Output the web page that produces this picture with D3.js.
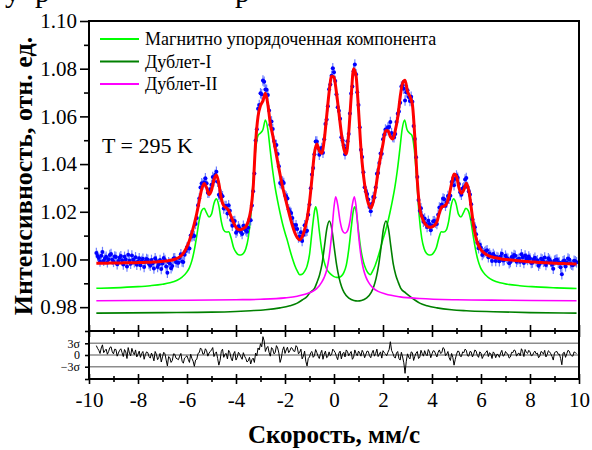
<!DOCTYPE html>
<html>
<head>
<meta charset="utf-8">
<script src="https://cdnjs.cloudflare.com/ajax/libs/d3/7.8.5/d3.min.js"></script>
<style>
body{margin:0;background:#fff;}
svg{display:block;}
</style>
</head>
<body>
<div id="chart"></div>
<script>
// velocity grid of the measured channels, mm/s (two interleaved sets)
var vStart=-9.7, vStartHalf=-9.65, vStep=0.1;

// measured intensity, channels at vStart + i*vStep
var counts=[
1.0027,1.0006,1.0016,0.9995,1.0011,1.0001,1.0023,0.9990,1.0010,0.9994,
1.0014,0.9979,1.0000,1.0020,0.9982,0.9999,1.0009,0.9991,0.9976,1.0003,
0.9990,0.9999,0.9974,0.9984,1.0005,0.9968,0.9998,0.9983,0.9998,0.9944,
0.9983,0.9973,1.0005,0.9987,1.0006,0.9991,1.0020,1.0050,1.0046,1.0096,
1.0098,1.0174,1.0256,1.0320,1.0324,1.0320,1.0281,1.0313,1.0328,1.0368,
1.0271,1.0271,1.0214,1.0224,1.0227,1.0166,1.0160,1.0112,1.0139,1.0116,
1.0141,1.0122,1.0133,1.0164,1.0286,1.0499,1.0632,1.0697,1.0750,1.0713,
1.0690,1.0565,1.0547,1.0476,1.0442,1.0321,1.0327,1.0269,1.0256,1.0200,
1.0174,1.0128,1.0128,1.0096,1.0077,1.0143,1.0120,1.0231,1.0356,1.0441,
1.0495,1.0439,1.0467,1.0504,1.0587,1.0714,1.0770,1.0785,1.0693,1.0624,
1.0512,1.0478,1.0465,1.0526,1.0696,1.0789,1.0777,1.0648,1.0460,1.0366,
1.0286,1.0251,1.0202,1.0262,1.0302,1.0363,1.0444,1.0504,1.0545,1.0553,
1.0576,1.0514,1.0526,1.0611,1.0657,1.0731,1.0667,1.0710,1.0665,1.0661,
1.0505,1.0346,1.0204,1.0182,1.0172,1.0136,1.0149,1.0142,1.0161,1.0149,
1.0218,1.0231,1.0253,1.0239,1.0255,1.0325,1.0311,1.0352,1.0316,1.0271,
1.0303,1.0342,1.0285,1.0232,1.0144,1.0106,1.0047,1.0049,1.0026,1.0035,
1.0009,1.0017,1.0023,0.9994,1.0007,1.0012,0.9996,1.0016,1.0003,0.9989,
1.0008,1.0016,1.0000,0.9990,1.0009,1.0017,0.9998,1.0004,0.9987,1.0007,
0.9997,0.9982,1.0000,1.0008,0.9988,0.9999,0.9978,0.9995,1.0000,0.9987,
0.9938,0.9996,0.9987,1.0000,0.9978,0.9995,0.9988
];
// measured intensity, channels at vStartHalf + i*vStep
var countsHalf=[
1.0015,0.9991,1.0031,1.0004,0.9988,1.0019,0.9999,1.0012,0.9980,1.0007,
0.9997,1.0011,0.9970,0.9995,1.0017,0.9988,0.9978,1.0005,0.9994,0.9968,
1.0002,0.9981,0.9998,0.9962,0.9994,0.9980,0.9960,1.0006,0.9971,0.9988,
0.9963,1.0004,0.9989,0.9986,1.0022,0.9989,1.0035,1.0047,1.0100,1.0102,
1.0149,1.0227,1.0302,1.0314,1.0341,1.0280,1.0294,1.0346,1.0355,1.0326,
1.0263,1.0265,1.0224,1.0193,1.0204,1.0141,1.0161,1.0119,1.0129,1.0107,
1.0129,1.0116,1.0169,1.0226,1.0361,1.0546,1.0648,1.0693,1.0745,1.0712,
1.0625,1.0579,1.0497,1.0480,1.0391,1.0316,1.0321,1.0264,1.0211,1.0195,
1.0145,1.0144,1.0092,1.0114,1.0103,1.0117,1.0187,1.0299,1.0384,1.0495,
1.0467,1.0455,1.0448,1.0568,1.0643,1.0734,1.0802,1.0748,1.0638,1.0590,
1.0500,1.0441,1.0496,1.0612,1.0725,1.0818,1.0701,1.0554,1.0430,1.0303,
1.0275,1.0220,1.0234,1.0261,1.0359,1.0404,1.0443,1.0523,1.0541,1.0555,
1.0530,1.0513,1.0576,1.0621,1.0725,1.0716,1.0701,1.0681,1.0682,1.0560,
1.0429,1.0249,1.0215,1.0158,1.0150,1.0162,1.0122,1.0160,1.0154,1.0188,
1.0215,1.0256,1.0225,1.0266,1.0267,1.0329,1.0338,1.0343,1.0282,1.0298,
1.0335,1.0304,1.0272,1.0169,1.0135,1.0070,1.0062,1.0019,1.0031,1.0039,
1.0025,0.9994,1.0015,1.0010,0.9993,1.0024,0.9998,1.0006,0.9984,1.0010,
1.0019,0.9990,1.0003,1.0022,0.9985,1.0004,1.0012,0.9985,1.0000,0.9993,
0.9974,1.0003,0.9990,0.9977,1.0005,0.9990,0.9961,0.9998,0.9987,0.9967,
0.9992,0.9971,1.0004,0.9984,0.9976,0.9992
];
var errHalf=0.0022;

// total fit on the channels of counts
var fitTotal=[
0.9984,0.9984,0.9984,0.9984,0.9984,0.9985,0.9985,0.9985,0.9985,0.9985,
0.9985,0.9986,0.9986,0.9986,0.9986,0.9986,0.9986,0.9987,0.9987,0.9987,
0.9988,0.9988,0.9988,0.9989,0.9989,0.9990,0.9991,0.9992,0.9993,0.9994,
0.9996,0.9998,1.0001,1.0005,1.0011,1.0020,1.0034,1.0054,1.0080,1.0112,
1.0150,1.0194,1.0245,1.0295,1.0319,1.0300,1.0272,1.0290,1.0335,1.0354,
1.0318,1.0255,1.0225,1.0217,1.0205,1.0180,1.0155,1.0135,1.0126,1.0125,
1.0130,1.0138,1.0160,1.0205,1.0300,1.0490,1.0600,1.0645,1.0665,1.0697,
1.0650,1.0570,1.0520,1.0465,1.0410,1.0355,1.0305,1.0262,1.0220,1.0180,
1.0143,1.0112,1.0092,1.0083,1.0095,1.0125,1.0170,1.0240,1.0340,1.0445,
1.0484,1.0455,1.0445,1.0500,1.0600,1.0700,1.0768,1.0765,1.0700,1.0615,
1.0530,1.0465,1.0442,1.0530,1.0680,1.0800,1.0770,1.0630,1.0465,1.0355,
1.0282,1.0235,1.0215,1.0240,1.0295,1.0370,1.0430,1.0484,1.0540,1.0540,
1.0515,1.0505,1.0540,1.0595,1.0680,1.0740,1.0752,1.0705,1.0683,1.0650,
1.0510,1.0330,1.0215,1.0175,1.0152,1.0140,1.0135,1.0137,1.0143,1.0158,
1.0195,1.0220,1.0224,1.0235,1.0268,1.0318,1.0358,1.0348,1.0300,1.0278,
1.0292,1.0320,1.0290,1.0218,1.0140,1.0088,1.0058,1.0040,1.0030,1.0022,
1.0016,1.0012,1.0009,1.0007,1.0005,1.0003,1.0001,1.0000,0.9999,0.9998,
0.9997,0.9996,0.9995,0.9994,0.9993,0.9992,0.9991,0.9990,0.9989,0.9989,
0.9988,0.9987,0.9987,0.9986,0.9986,0.9985,0.9985,0.9984,0.9984,0.9983,
0.9983,0.9983,0.9982,0.9982,0.9982,0.9981,0.9981
];

// residuals in units of sigma, for counts and countsHalf
var resid=[
2.4,1.2,1.8,0.6,1.5,0.9,2.1,0.3,1.4,0.5,
1.6,-0.4,0.8,1.9,-0.2,0.7,1.3,0.2,-0.6,0.9,
0.1,0.6,-0.8,-0.3,0.9,-1.2,0.4,-0.5,0.3,-2.8,
-0.7,-1.4,0.2,-1.0,-0.3,-1.6,-0.8,-0.2,-1.9,-0.9,
-2.9,-1.1,0.6,1.4,0.3,1.1,0.5,1.3,-0.4,0.8,
-2.6,0.9,-0.6,0.4,1.2,-0.8,0.3,-1.3,0.7,-0.5,
0.6,-0.9,-1.5,-2.3,-0.8,0.5,1.8,2.9,4.7,0.9,
2.2,-0.3,1.5,0.6,1.8,-1.9,1.2,0.4,2.0,1.1,
1.7,0.9,2.0,0.7,-1.0,1.0,-2.8,-0.5,0.9,-0.2,
0.6,-0.9,1.2,0.2,-0.7,0.8,0.1,1.1,-0.4,0.5,
-1.0,0.7,1.3,-0.2,0.9,-0.6,0.4,1.0,-0.3,0.6,
0.2,0.9,-0.7,1.2,0.4,-0.4,0.8,1.1,0.3,0.7,
3.4,0.5,-0.8,0.9,-1.3,-0.5,-4.7,0.3,-1.0,0.6,
-0.3,0.9,-0.6,0.4,1.1,-0.2,0.8,0.3,1.0,-0.5,
1.3,0.6,1.6,0.2,-0.7,0.4,-2.6,0.2,0.9,-0.4,
0.6,1.2,-0.3,0.8,0.2,1.0,-0.6,0.5,-0.2,0.7,
-0.4,0.3,0.8,-0.7,0.1,0.5,-0.3,0.9,0.2,-0.5,
0.6,1.1,0.3,-0.2,0.9,1.4,0.4,0.8,-0.1,1.0,
0.5,-0.3,0.7,1.2,0.1,0.8,-0.4,0.6,0.9,0.2,
-2.5,0.7,0.3,1.0,-0.2,0.8,0.4
];
var residHalf=[
1.7,0.4,2.6,1.1,0.2,1.9,0.8,1.5,-0.3,1.2,
0.6,1.4,-0.9,0.5,1.7,0.1,-0.5,1.0,0.4,-1.1,
0.8,-0.4,0.5,-1.5,0.2,-0.6,-1.8,0.7,-1.3,-0.4,
-1.9,0.3,-0.8,-1.2,0.4,-2.1,-0.5,-1.1,0.2,-1.6,
-1.3,0.4,1.8,0.2,1.6,-0.3,0.9,1.9,0.4,-0.9,
-1.4,1.5,0.2,-1.0,0.6,-1.5,0.9,-0.6,0.2,-1.1,
-0.3,-1.8,-0.6,-1.2,-1.9,-0.2,1.3,2.1,3.6,1.8,
0.7,1.9,0.3,2.4,0.5,-0.8,2.1,1.3,0.6,1.9,
1.0,2.4,0.3,1.5,-0.3,-1.6,-0.9,0.6,-0.6,1.4,
-0.3,0.4,-1.1,1.0,-0.4,-0.2,1.5,0.6,-1.2,1.0,
0.3,-0.5,0.9,0.4,-1.1,1.3,-0.2,0.5,1.2,-0.7,
1.0,-0.2,0.5,-0.3,1.5,0.2,-0.8,0.6,-0.2,1.4,
1.2,-0.4,0.5,-0.9,0.7,-2.0,-1.6,-0.6,0.8,-1.4,
0.5,-0.9,1.2,-0.3,0.2,1.4,-0.7,1.1,0.2,0.7,
0.4,1.9,-0.2,0.9,-1.4,-0.6,-1.1,1.0,-0.3,0.8,
1.5,-0.2,0.9,-0.5,1.3,-0.1,0.8,-0.9,0.3,1.1,
0.6,-0.9,0.4,0.2,-0.6,1.2,-0.1,0.4,-0.8,0.7,
1.3,-0.3,0.5,1.6,-0.4,0.7,1.2,-0.2,0.6,0.3,
-0.7,0.9,0.2,-0.5,1.1,0.3,-1.3,0.8,0.2,-0.9,
0.5,-0.6,1.2,0.1,-0.3,0.6
];

// sub-spectra [velocity, intensity]
var magnetic=[
[-9.7,0.9879],[-9.0,0.9881],[-8.0,0.9886],[-7.5,0.9890],[-7.0,0.9896],[-6.7,0.9902],[-6.4,0.9913],[-6.2,0.9926],
[-6.0,0.9948],[-5.9,0.9966],[-5.8,0.9995],[-5.7,1.0040],[-5.6,1.0100],[-5.5,1.0165],[-5.4,1.0205],[-5.3,1.0215],
[-5.2,1.0195],[-5.1,1.0178],[-5.0,1.0190],[-4.9,1.0235],[-4.8,1.0254],[-4.7,1.0225],[-4.6,1.0160],[-4.5,1.0123],
[-4.4,1.0115],[-4.3,1.0116],[-4.2,1.0090],[-4.1,1.0050],[-4.0,1.0030],[-3.9,1.0020],[-3.8,1.0019],[-3.7,1.0025],
[-3.6,1.0045],[-3.5,1.0090],[-3.4,1.0180],[-3.3,1.0330],[-3.2,1.0460],[-3.1,1.0520],[-3.0,1.0530],[-2.9,1.0545],
[-2.8,1.0585],[-2.7,1.0545],[-2.6,1.0455],[-2.5,1.0370],[-2.4,1.0300],[-2.3,1.0245],[-2.2,1.0195],[-2.1,1.0150],
[-2.0,1.0112],[-1.9,1.0078],[-1.8,1.0040],[-1.7,1.0005],[-1.6,0.9975],[-1.5,0.9952],[-1.4,0.9936],[-1.3,0.9938],
[-1.2,0.9950],[-1.1,0.9972],[-1.0,1.0020],[-0.9,1.0115],[-0.8,1.0200],[-0.75,1.0221],[-0.7,1.0205],[-0.6,1.0120],
[-0.5,1.0040],[-0.4,0.9990],[-0.3,0.9960],[-0.2,0.9945],[-0.1,0.9935],[0.0,0.9928],[0.1,0.9925],[0.2,0.9925],
[0.3,0.9930],[0.4,0.9945],[0.5,0.9975],[0.6,1.0040],[0.7,1.0130],[0.8,1.0210],[0.85,1.0221],[0.9,1.0205],
[1.0,1.0120],[1.1,1.0040],[1.2,0.9990],[1.3,0.9960],[1.4,0.9942],[1.48,0.9936],[1.58,0.9952],[1.68,0.9975],
[1.78,1.0005],[1.88,1.0040],[1.98,1.0078],[2.08,1.0112],[2.18,1.0150],[2.28,1.0195],[2.38,1.0245],[2.48,1.0300],
[2.58,1.0370],[2.68,1.0455],[2.78,1.0545],[2.88,1.0585],[2.98,1.0545],[3.08,1.0530],[3.18,1.0520],[3.28,1.0460],
[3.38,1.0330],[3.48,1.0180],[3.58,1.0090],[3.68,1.0045],[3.78,1.0025],[3.88,1.0019],[3.98,1.0020],[4.08,1.0030],
[4.18,1.0050],[4.28,1.0090],[4.38,1.0116],[4.48,1.0115],[4.58,1.0123],[4.68,1.0160],[4.78,1.0225],[4.88,1.0254],
[4.98,1.0235],[5.08,1.0190],[5.18,1.0178],[5.28,1.0195],[5.38,1.0215],[5.48,1.0205],[5.58,1.0165],[5.68,1.0100],
[5.78,1.0040],[5.88,0.9995],[5.98,0.9966],[6.08,0.9948],[6.28,0.9926],[6.48,0.9913],[6.78,0.9902],[7.08,0.9896],
[7.58,0.9890],[8.08,0.9886],[9.08,0.9881],[9.9,0.9878]
];
var doublet1=[
[-9.7,0.9775],[-7.0,0.9777],[-5.0,0.9779],[-4.0,0.9782],[-3.4,0.9785],[-2.8,0.9789],[-2.2,0.9797],[-1.8,0.9806],
[-1.5,0.9817],[-1.3,0.9830],[-1.1,0.9845],[-0.99,0.9860],[-0.79,0.9880],[-0.69,0.9905],[-0.59,0.9935],[-0.49,0.9980],
[-0.39,1.0055],[-0.29,1.0130],[-0.19,1.0161],[-0.09,1.0128],[0.01,1.0050],[0.11,0.9975],[0.21,0.9922],[0.31,0.9886],
[0.41,0.9862],[0.61,0.9838],[0.81,0.9828],[0.97,0.9826],[1.12,0.9828],[1.32,0.9838],[1.52,0.9862],[1.62,0.9886],
[1.72,0.9922],[1.82,0.9975],[1.92,1.0050],[2.02,1.0128],[2.12,1.0161],[2.22,1.0130],[2.32,1.0055],[2.42,0.9980],
[2.52,0.9935],[2.62,0.9905],[2.72,0.9880],[2.92,0.9860],[3.1,0.9845],[3.3,0.9830],[3.5,0.9817],[3.8,0.9806],
[4.2,0.9797],[4.8,0.9789],[5.4,0.9785],[6.5,0.9781],[8.0,0.9777],[9.9,0.9775]
];
var doublet2=[
[-9.7,0.9827],[-6.0,0.9829],[-4.0,0.9831],[-3.0,0.9833],[-2.0,0.9839],[-1.5,0.9846],[-1.0,0.9860],[-0.8,0.9871],
[-0.7,0.9879],[-0.6,0.9890],[-0.5,0.9905],[-0.4,0.9925],[-0.3,0.9955],[-0.2,1.0010],[-0.1,1.0100],[0.0,1.0220],
[0.07,1.0263],[0.15,1.0230],[0.25,1.0160],[0.35,1.0120],[0.45,1.0110],[0.55,1.0120],[0.65,1.0160],[0.75,1.0230],
[0.83,1.0263],[0.9,1.0225],[1.0,1.0105],[1.1,1.0015],[1.2,0.9960],[1.3,0.9927],[1.4,0.9906],[1.5,0.9891],
[1.6,0.9880],[1.8,0.9866],[2.1,0.9855],[2.7,0.9843],[3.5,0.9836],[5.0,0.9831],[7.0,0.9829],[9.9,0.9827]
];

var yMajor=[0.98,1.00,1.02,1.04,1.06,1.08,1.10];
var yMinor=[0.99,1.01,1.03,1.05,1.07,1.09];
var xMajor=[-10,-8,-6,-4,-2,0,2,4,6,8,10];
var xMinor=[-9,-7,-5,-3,-1,1,3,5,7,9];
var residLevels=[3,0,-3];
var residLabels=["3σ","0","−3σ"];
var legendNames=["Магнитно упорядоченная компонента","Дублет-I","Дублет-II"];

var SERIF='"Liberation Serif","Times New Roman",serif';

var Spectrum=function(){
	this.box={left:89,right:579,top:21,mid:331,bottom:379};
}

Spectrum.prototype.render=function(){
	var box=this.box;
	var svg=d3.select("#chart").append("svg").attr("width",592).attr("height",450);
	var x=d3.scaleLinear().domain([-10,10]).range([box.left,box.right]);
	var y=d3.scaleLinear().domain([0.97,1.10]).range([box.mid,box.top]);
	var yRes=d3.scaleLinear().domain([-6.15,6.15]).range([box.bottom,box.mid]);

	//both channel sets, merged in velocity order
	var points=[];
	counts.forEach(function(d,i){
		points.push({v:vStart+i*vStep,c:d,r:resid[i]});
		if(i<countsHalf.length) points.push({v:vStartHalf+i*vStep,c:countsHalf[i],r:residHalf[i]});
	});

	//clipped remains of the title above the frame
	svg.append("text").attr("y",2).attr("font-family",SERIF).attr("font-size",30)
		.selectAll("tspan").data(["у","р","р"]).enter().append("tspan")
		.attr("x",function(d,i){return [5,35,235][i];}).text(function(d){return d;});

	var pairLine=d3.line().x(function(d){return x(d[0]);}).y(function(d){return y(d[1]);}).curve(d3.curveMonotoneX);
	var parts=[[magnetic,"#00ff00"],[doublet1,"#008000"],[doublet2,"#ff00ff"]];
	parts.forEach(function(p){
		svg.append("path").datum(p[0]).attr("d",pairLine)
			.attr("fill","none").attr("stroke",p[1]).attr("stroke-width",1.6);
	});

	var pts=svg.append("g");
	pts.selectAll("line").data(points).enter().append("line")
		.attr("x1",function(d){return x(d.v);})
		.attr("x2",function(d){return x(d.v);})
		.attr("y1",function(d){return y(d.c-errHalf);})
		.attr("y2",function(d){return y(d.c+errHalf);})
		.attr("stroke","#3f55ff").attr("stroke-width",1.2).attr("stroke-opacity",0.75);
	pts.selectAll("circle").data(points).enter().append("circle")
		.attr("cx",function(d){return x(d.v);})
		.attr("cy",function(d){return y(d.c);})
		.attr("r",2).attr("fill","#0000ff");

	var gridLine=d3.line().x(function(d,i){return x(vStart+i*vStep);}).y(function(d){return y(d);}).curve(d3.curveMonotoneX);
	svg.append("path").datum(fitTotal).attr("d",gridLine)
		.attr("fill","none").attr("stroke","#ff0000").attr("stroke-width",3);

	//residual panel
	svg.append("g").selectAll("line").data(residLevels).enter().append("line")
		.attr("x1",box.left).attr("x2",box.right)
		.attr("y1",function(d){return yRes(d);}).attr("y2",function(d){return yRes(d);})
		.attr("stroke","#8c8c8c").attr("stroke-width",1.5);
	var resLine=d3.line().x(function(d){return x(d.v);}).y(function(d){return yRes(d.r);});
	svg.append("path").datum(points).attr("d",resLine)
		.attr("fill","none").attr("stroke","#000").attr("stroke-width",1);

	//axes
	function clean(g,size){
		g.select(".domain").remove();
		g.selectAll(".tick line").attr("stroke","#000").attr("stroke-width",1.6);
		g.attr("font-family",SERIF).attr("font-size",size);
		g.selectAll("text").attr("fill","#000");
		return g;
	}
	clean(svg.append("g").attr("transform","translate("+box.left+",0)")
		.call(d3.axisLeft(y).tickValues(yMajor).tickSize(9).tickPadding(3).tickFormat(d3.format(".2f"))),21);
	clean(svg.append("g").attr("transform","translate("+box.left+",0)")
		.call(d3.axisLeft(y).tickValues(yMinor).tickSize(5).tickFormat("")),21);
	clean(svg.append("g").attr("transform","translate("+box.left+",0)")
		.call(d3.axisLeft(yRes).tickValues(residLevels).tickSize(4).tickPadding(5)
			.tickFormat(function(d,i){return residLabels[i];})),12);
	clean(svg.append("g").attr("transform","translate("+box.left+",0)")
		.call(d3.axisLeft(yRes).tickValues(yRes.domain()).tickSize(4).tickFormat("")),12);

	clean(svg.append("g").attr("transform","translate(0,"+box.bottom+")")
		.call(d3.axisBottom(x).tickValues(xMajor).tickSize(5).tickPadding(8)
			.tickFormat(function(d){return String(d);})),21);
	[[box.bottom,5,3,"top"],[box.mid,6,3,"both"]].forEach(function(r){
		var t=svg.append("g").attr("transform","translate(0,"+r[0]+")");
		clean(t.append("g").call(d3.axisTop(x).tickValues(xMajor).tickSize(r[1]).tickFormat("")),10);
		clean(t.append("g").call(d3.axisTop(x).tickValues(xMinor).tickSize(r[2]).tickFormat("")),10);
		clean(t.append("g").call(d3.axisBottom(x).tickValues(xMinor).tickSize(r[2]).tickFormat("")),10);
		if(r[3]==="both")
			clean(t.append("g").call(d3.axisBottom(x).tickValues(xMajor).tickSize(r[1]).tickFormat("")),10);
	});

	//frame
	var xr=x.range();
	svg.append("path")
		.attr("d","M"+xr[0]+","+box.bottom+"V"+box.top+"H"+xr[1]+"V"+box.bottom+"H"+xr[0]
			+"M"+xr[0]+","+box.mid+"H"+xr[1])
		.attr("fill","none").attr("stroke","#000").attr("stroke-width",2);

	//titles
	svg.append("text").attr("transform","translate(32,176) rotate(-90)")
		.attr("text-anchor","middle").attr("font-family",SERIF).attr("font-weight","bold")
		.attr("font-size",26).text("Интенсивность, отн. ед.");
	svg.append("text").attr("x",334).attr("y",443)
		.attr("text-anchor","middle").attr("font-family",SERIF).attr("font-weight","bold")
		.attr("font-size",25).text("Скорость, мм/с");
	svg.append("text").attr("x",102).attr("y",153)
		.attr("font-family",SERIF).attr("font-size",22).text("T = 295 K");

	//legend
	var leg=svg.append("g").selectAll("g").data(legendNames).enter().append("g")
		.attr("transform",function(d,i){return "translate(100,"+(39+i*22.5)+")";});
	leg.append("line").attr("x1",0).attr("x2",39)
		.attr("stroke",function(d,i){return parts[i][1];}).attr("stroke-width",2);
	leg.append("text").attr("x",45).attr("y",6)
		.attr("font-family",SERIF).attr("font-size",18).text(function(d){return d;});
}

new Spectrum().render();
</script>
</body>
</html>
